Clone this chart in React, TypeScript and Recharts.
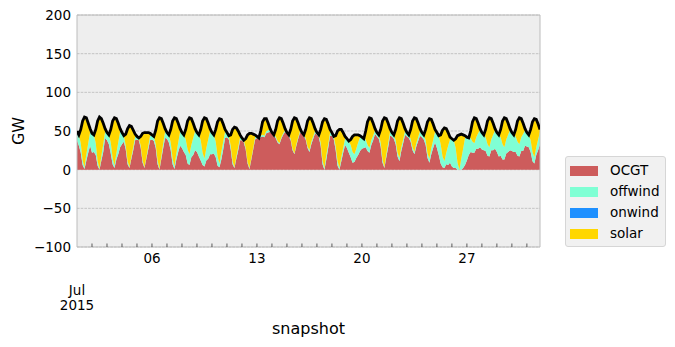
import React from 'react';
import { ComposedChart, Area, Line, XAxis, YAxis, CartesianGrid, ReferenceArea } from 'recharts';

// Hours of the day sampled (every 3 h), July 2015, one row per day
const hoursOfDay = [0, 3, 6, 9, 12, 15, 18, 21];
const majorDayIndex = [5, 12, 19, 26];
const majorDayLabels = ['06', '13', '20', '27'];
const monthLabel = ['Jul', '2015'];
const yTicks = [-100, -50, 0, 50, 100, 150, 200];
const seriesNames = ['OCGT', 'offwind', 'onwind', 'solar'];
const seriesColors = ['#CD5C5C', '#7FFFD4', '#1E90FF', '#FFD700'];

const loadGW = [
  [50, 45, 52, 63, 68, 67, 60, 53],
  [47, 45, 52, 63, 68, 66, 60, 53],
  [48, 45, 52, 63, 67, 66, 60, 53],
  [48, 44, 46, 53, 57, 56, 51, 46],
  [43, 41, 43, 47, 48, 48, 48, 47],
  [45, 43, 51, 63, 67, 66, 60, 53],
  [48, 45, 52, 63, 67, 66, 60, 53],
  [48, 45, 52, 63, 67, 66, 60, 53],
  [48, 45, 52, 63, 67, 66, 60, 53],
  [48, 45, 52, 62, 66, 65, 59, 52],
  [48, 44, 45, 52, 55, 54, 50, 45],
  [41, 38, 40, 45, 47, 47, 46, 45],
  [43, 41, 50, 62, 66, 66, 60, 53],
  [48, 45, 52, 63, 67, 66, 60, 53],
  [48, 45, 52, 63, 67, 66, 60, 53],
  [48, 45, 52, 63, 67, 66, 60, 53],
  [48, 45, 52, 62, 66, 65, 59, 52],
  [48, 43, 44, 50, 52, 52, 48, 43],
  [40, 37, 39, 43, 45, 45, 45, 44],
  [42, 40, 50, 62, 67, 66, 60, 53],
  [48, 45, 52, 63, 67, 66, 60, 53],
  [48, 45, 52, 63, 67, 66, 60, 53],
  [48, 45, 52, 63, 67, 66, 60, 53],
  [48, 45, 52, 62, 66, 65, 59, 52],
  [48, 44, 45, 51, 54, 53, 48, 42],
  [40, 38, 40, 44, 45, 46, 45, 44],
  [42, 41, 50, 62, 67, 66, 60, 53],
  [48, 45, 52, 63, 67, 66, 60, 53],
  [48, 45, 52, 63, 67, 66, 60, 53],
  [48, 45, 52, 63, 67, 66, 60, 53],
  [48, 45, 52, 62, 66, 65, 59, 52],
];

const solarGW = [
  [0, 0, 18, 51, 65, 47, 26, 4],
  [0, 0, 18, 52, 67, 48, 27, 4],
  [0, 0, 17, 48, 62, 45, 25, 4],
  [0, 0, 15, 42, 54, 39, 22, 3],
  [0, 0, 12, 35, 45, 32, 18, 3],
  [0, 0, 18, 51, 66, 48, 26, 4],
  [0, 0, 17, 49, 63, 45, 25, 4],
  [0, 0, 13, 37, 47, 34, 19, 3],
  [0, 0, 14, 41, 53, 38, 21, 3],
  [0, 0, 16, 45, 58, 42, 23, 3],
  [0, 0, 14, 41, 52, 37, 21, 3],
  [0, 0, 12, 35, 45, 32, 18, 3],
  [0, 0, 6, 17, 22, 16, 9, 1],
  [0, 0, 9, 26, 33, 24, 13, 2],
  [0, 0, 12, 36, 46, 33, 18, 3],
  [0, 0, 11, 33, 42, 30, 17, 3],
  [0, 0, 17, 50, 64, 46, 26, 4],
  [0, 0, 14, 39, 50, 36, 20, 3],
  [0, 0, 7, 20, 25, 18, 10, 2],
  [0, 0, 11, 30, 39, 28, 16, 2],
  [0, 0, 17, 50, 64, 46, 26, 4],
  [0, 0, 14, 41, 52, 37, 21, 3],
  [0, 0, 12, 34, 44, 32, 18, 3],
  [0, 0, 14, 41, 52, 37, 21, 3],
  [0, 0, 12, 34, 43, 31, 17, 3],
  [0, 0, 12, 35, 45, 32, 18, 3],
  [0, 0, 9, 26, 33, 24, 13, 2],
  [0, 0, 10, 30, 38, 27, 15, 2],
  [0, 0, 10, 30, 38, 27, 15, 2],
  [0, 0, 9, 27, 34, 24, 14, 2],
  [0, 0, 14, 39, 50, 36, 20, 3],
];

const offwindGW = [
  [12, 14, 12, 6, 2, 8, 12, 18],
  [25, 22, 15, 6, 1, 6, 10, 8],
  [10, 12, 14, 8, 3, 8, 15, 20],
  [15, 8, 5, 4, 1, 3, 4, 5],
  [4, 3, 3, 3, 1, 2, 4, 6],
  [6, 6, 5, 5, 1, 4, 6, 8],
  [8, 10, 10, 7, 3, 8, 12, 18],
  [20, 22, 20, 18, 14, 16, 22, 25],
  [25, 28, 26, 16, 10, 16, 25, 30],
  [28, 24, 20, 12, 5, 10, 10, 8],
  [6, 5, 5, 4, 1, 3, 4, 4],
  [3, 3, 2, 2, 1, 2, 2, 3],
  [2, 2, 2, 2, 2, 3, 3, 3],
  [2, 2, 2, 2, 1, 2, 2, 2],
  [2, 2, 2, 2, 1, 2, 2, 2],
  [2, 2, 2, 2, 2, 3, 3, 3],
  [3, 3, 4, 5, 2, 6, 5, 4],
  [4, 4, 5, 6, 2, 5, 6, 8],
  [12, 15, 16, 14, 10, 12, 16, 18],
  [15, 12, 10, 8, 6, 6, 6, 5],
  [5, 5, 5, 4, 1, 4, 5, 5],
  [5, 5, 5, 5, 4, 5, 5, 5],
  [5, 4, 4, 4, 3, 4, 5, 6],
  [6, 6, 6, 6, 5, 8, 10, 14],
  [20, 25, 25, 14, 9, 15, 25, 30],
  [36, 36, 26, 9, 0, 14, 25, 35],
  [30, 22, 18, 14, 12, 15, 20, 22],
  [22, 20, 18, 15, 12, 14, 20, 24],
  [25, 28, 24, 20, 16, 18, 22, 26],
  [24, 22, 20, 18, 16, 18, 22, 20],
  [18, 16, 15, 12, 8, 10, 14, 16],
];

const onwindGW = [
  [0, 0, 0, 0, 0, 0, 0, 0], [0, 0, 0, 0, 0, 0, 0, 0], [0, 0, 0, 0, 0, 0, 0, 0],
  [0, 0, 0, 0, 0, 0, 0, 0], [0, 0, 0, 0, 0, 0, 0, 0], [0, 0, 0, 0, 0, 0, 0, 0],
  [0, 0, 0, 0, 0, 0, 0, 0], [0, 0, 0, 0, 0, 0, 0, 0], [0, 0, 0, 0, 0, 0, 0, 0],
  [0, 0, 0, 0, 0, 0, 0, 0], [0, 0, 0, 0, 0, 0, 0, 0], [0, 0, 0, 0, 0, 0, 0, 0],
  [0, 0, 0, 0, 0, 0, 0, 0], [0, 0, 0, 0, 0, 0, 0, 0], [0, 0, 0, 0, 0, 0, 0, 0],
  [0, 0, 0, 0, 0, 0, 0, 0], [0, 0, 0, 0, 0, 0, 0, 0], [0, 0, 0, 0, 0, 0, 0, 0],
  [0, 0, 0, 0, 0, 0, 0, 0], [0, 0, 0, 0, 0, 0, 0, 0], [0, 0, 0, 0, 0, 0, 0, 0],
  [0, 0, 0, 0, 0, 0, 0, 0], [0, 0, 0, 0, 0, 0, 0, 0], [0, 0, 0, 0, 0, 0, 0, 0],
  [0, 0, 0, 0, 0, 0, 0, 0], [0, 0, 0, 0, 0, 0, 0, 0], [0, 0, 0, 0, 0, 0, 0, 0],
  [0, 0, 0, 0, 0, 0, 0, 0], [0, 0, 0, 0, 0, 0, 0, 0], [0, 0, 0, 0, 0, 0, 0, 0],
  [0, 0, 0, 0, 0, 0, 0, 0],
];

const ocgtGW = [
  [38, 31, 22, 6, 1, 12, 22, 31],
  [22, 23, 19, 5, 0, 12, 23, 41],
  [38, 33, 21, 7, 2, 13, 20, 29],
  [33, 36, 26, 7, 2, 14, 25, 38],
  [39, 38, 28, 9, 2, 14, 26, 38],
  [39, 37, 28, 7, 0, 14, 28, 41],
  [40, 35, 25, 7, 1, 13, 23, 31],
  [28, 23, 19, 8, 6, 16, 19, 25],
  [23, 17, 12, 6, 4, 12, 14, 20],
  [20, 21, 16, 5, 3, 13, 26, 41],
  [42, 39, 26, 7, 2, 14, 25, 38],
  [38, 35, 26, 8, 1, 13, 26, 39],
  [41, 39, 42, 43, 42, 47, 48, 49],
  [46, 43, 41, 35, 33, 40, 45, 49],
  [46, 43, 38, 25, 20, 31, 40, 48],
  [46, 43, 39, 28, 23, 33, 40, 47],
  [45, 42, 31, 7, 0, 13, 28, 44],
  [44, 39, 25, 5, 0, 11, 22, 32],
  [28, 22, 16, 9, 10, 15, 19, 24],
  [27, 28, 29, 24, 22, 32, 38, 46],
  [43, 40, 30, 9, 2, 16, 29, 44],
  [43, 40, 33, 17, 11, 24, 34, 45],
  [43, 41, 36, 25, 20, 30, 37, 44],
  [42, 39, 32, 15, 9, 20, 28, 35],
  [28, 19, 8, 3, 2, 7, 6, 9],
  [4, 2, 2, 0, 0, 0, 2, 6],
  [12, 19, 23, 22, 22, 27, 27, 29],
  [26, 25, 24, 18, 17, 25, 25, 27],
  [23, 17, 18, 13, 13, 21, 23, 25],
  [24, 23, 23, 18, 17, 24, 24, 31],
  [30, 29, 23, 11, 8, 19, 25, 33],
];

const data: any[] = [];
loadGW.forEach((row, d) => {
  hoursOfDay.forEach((h, k) => {
    data.push({
      t: d * 24 + h,
      OCGT: ocgtGW[d][k],
      offwind: offwindGW[d][k],
      onwind: onwindGW[d][k],
      solar: solarGW[d][k],
      load: row[k],
    });
  });
});

const dayTicks = loadGW.map((_, d) => d * 24);
const lastT = (loadGW.length - 1) * 24 + hoursOfDay[hoursOfDay.length - 1];

const FONT = 'DejaVu Sans, sans-serif';
const PLOT_BOTTOM = 247;

const XTick = (props: any) => {
  const { x, payload } = props;
  const t = payload.value;
  const idx = majorDayIndex.indexOf(t / 24);
  return (
    <g>
      {t > 0 && (
        <line x1={x} x2={x} y1={PLOT_BOTTOM} y2={PLOT_BOTTOM - 3.5} stroke="#333" strokeWidth={0.8} />
      )}
      {idx >= 0 && (
        <text x={x} y={258} textAnchor="middle" dominantBaseline="central" fontFamily={FONT} fontSize={13.5} fill="#000">
          {majorDayLabels[idx]}
        </text>
      )}
      {t === 0 && (
        <text textAnchor="middle" dominantBaseline="central" fontFamily={FONT} fontSize={13.5} fill="#000">
          <tspan x={x} y={290}>{monthLabel[0]}</tspan>
          <tspan x={x} y={305}>{monthLabel[1]}</tspan>
        </text>
      )}
    </g>
  );
};

const YTick = (props: any) => {
  const { y, payload } = props;
  const v = payload.value;
  return (
    <text x={71} y={y} textAnchor="end" dominantBaseline="central" fontFamily={FONT} fontSize={13.5} fill="#000">
      {String(v).replace('-', '\u2212')}
    </text>
  );
};

const XLabel = () => (
  <text x={308.5} y={328} textAnchor="middle" dominantBaseline="central" fontFamily={FONT} fontSize={16} fill="#000">
    snapshot
  </text>
);

const YLabel = () => (
  <text
    x={18}
    y={131}
    textAnchor="middle"
    dominantBaseline="central"
    fontFamily={FONT}
    fontSize={16}
    fill="#000"
    transform="rotate(-90 18 131)"
  >
    GW
  </text>
);

const LegendBox = () => (
  <div
    style={{
      position: 'absolute',
      left: 565,
      top: 156,
      width: 99,
      height: 86,
      border: '1px solid #d6d6d6',
      borderRadius: 3,
      background: '#f1f1f1',
      paddingTop: 3,
      fontFamily: FONT,
      fontSize: 13.5,
      color: '#000',
    }}
  >
    {seriesNames.map((n, i) => (
      <div key={n} style={{ display: 'flex', alignItems: 'center', height: 21 }}>
        <div style={{ width: 28, height: 10, marginLeft: 4, background: seriesColors[i] }} />
        <span style={{ marginLeft: 12, lineHeight: '21px' }}>{n}</span>
      </div>
    ))}
  </div>
);

export default function App() {
  return (
    <div style={{ position: 'absolute', left: 0, top: 0, width: 675, height: 347, background: '#fff' }}>
      <ComposedChart
        width={675}
        height={347}
        data={data}
        margin={{ top: 15, right: 135, bottom: 0, left: 0 }}
      >
        <CartesianGrid
          horizontal={true}
          vertical={false}
          fill="#eeeeee"
          stroke="#b2b2b2"
          strokeDasharray="2.6 1.1"
          strokeWidth={0.7}
        />
        <XAxis
          type="number"
          dataKey="t"
          domain={[0, lastT]}
          ticks={dayTicks}
          interval={0}
          tick={<XTick />}
          tickLine={false}
          axisLine={false}
          allowDataOverflow
          height={100}
          label={{ content: () => <XLabel /> }}
        />
        <YAxis
          type="number"
          domain={[-100, 200]}
          ticks={yTicks}
          interval={0}
          width={77}
          tick={<YTick />}
          tickLine={false}
          axisLine={false}
          allowDataOverflow
          label={{ content: () => <YLabel /> }}
        />
        {seriesNames.map((n, i) => (
          <Area
            key={n}
            type="linear"
            dataKey={n}
            stackId="gen"
            stroke="none"
            fill={seriesColors[i]}
            fillOpacity={1}
            isAnimationActive={false}
          />
        ))}
        <Line
          type="linear"
          dataKey="load"
          stroke="#000"
          strokeWidth={2.8}
          dot={false}
          isAnimationActive={false}
        />
        <ReferenceArea
          x1={0}
          x2={lastT}
          y1={-100}
          y2={200}
          fill="none"
          stroke="#bcbcbc"
          strokeWidth={1}
          ifOverflow="visible"
        />
      </ComposedChart>
      <LegendBox />
    </div>
  );
}
